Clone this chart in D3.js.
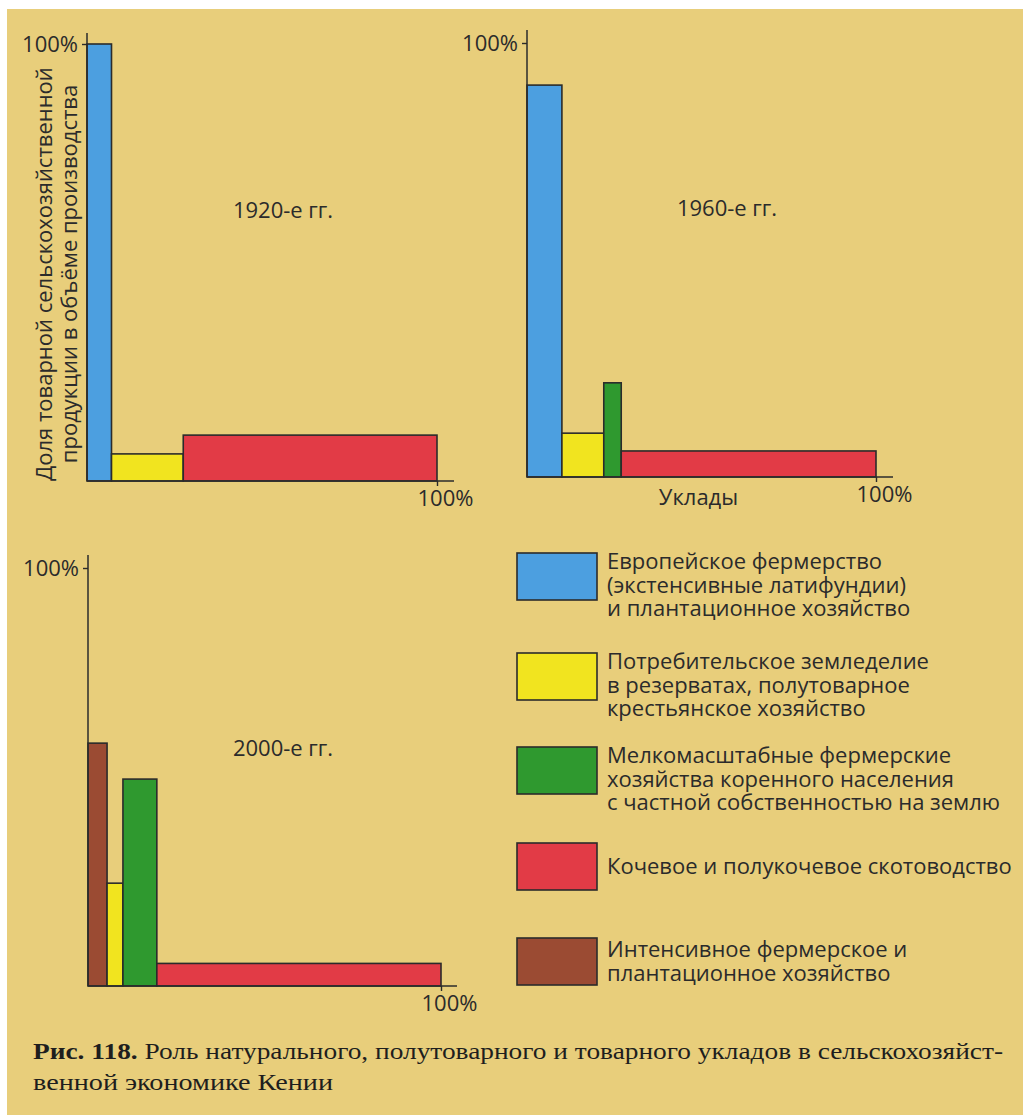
<!DOCTYPE html>
<html>
<head>
<meta charset="utf-8">
<script src="https://cdn.jsdelivr.net/npm/d3@7"></script>
<style>
  html, body { margin: 0; padding: 0; background: #ffffff; }
  svg { display: block; }
</style>
</head>
<body>
<svg id="chart" width="1023" height="1115"></svg>
<script>
// Modes of agricultural production (legend order)
const modeKeys = ["european", "subsistence", "smallholder", "nomadic", "intensive"];
const modeLabels = [
  ["Европейское фермерство", "(экстенсивные латифундии)", "и плантационное хозяйство"],
  ["Потребительское земледелие", "в резерватах, полутоварное", "крестьянское хозяйство"],
  ["Мелкомасштабные фермерские", "хозяйства коренного населения", "с частной собственностью на землю"],
  ["Кочевое и полукочевое скотоводство"],
  ["Интенсивное фермерское и", "плантационное хозяйство"]
];
const modeColors = ["#4c9fe0", "#f1e41f", "#2f992f", "#e23b46", "#9b4b33"];

// Periods
const periods = ["1920-е гг.", "1960-е гг.", "2000-е гг."];

// Per period: modes present, their share of all farming (bar width, %)
// and the share of commercial output within each mode (bar height, %)
const modes1920 = ["european", "subsistence", "nomadic"];
const width1920 = [7, 20.5, 72.5];
const share1920 = [100, 6.2, 10.5];

const modes1960 = ["european", "subsistence", "smallholder", "nomadic"];
const width1960 = [10, 12, 5, 73];
const share1960 = [90.3, 10.1, 21.7, 6];

const modes2000 = ["intensive", "subsistence", "smallholder", "nomadic"];
const width2000 = [5.4, 4.5, 9.6, 80.5];
const share2000 = [58.1, 24.6, 49.5, 5.4];

const tickValue = [100];
const yTitle = ["Доля товарной сельскохозяйственной", "продукции в объёме производства"];
const xTitle = "Уклады";
const captionBold = "Рис. 118.";
const captionLine1 = " Роль натурального, полутоварного и товарного укладов в сельскохозяйст-";
const captionLine2 = "венной экономике Кении";

// ---- layout ----
const svg = d3.select("#chart");
const bg = "#e8ce7b";
const ink = "#2b2b2b";
const sans = "'Open Sans', 'Noto Sans', sans-serif";
const fs = 22;

svg.append("rect").attr("x", 7).attr("y", 9).attr("width", 1016).attr("height", 1106).attr("fill", bg);

const panels = [
  { name: periods[0], modes: modes1920, widths: width1920, shares: share1920,
    left: 87, right: 437, bottom: 481, top: 44, axisTop: 33, axisRight: 454,
    labelX: 283, labelY: 218, xTitle: false },
  { name: periods[1], modes: modes1960, widths: width1960, shares: share1960,
    left: 527, right: 876, bottom: 477, top: 43, axisTop: 30, axisRight: 893,
    labelX: 727, labelY: 216, xTitle: true },
  { name: periods[2], modes: modes2000, widths: width2000, shares: share2000,
    left: 88, right: 441, bottom: 986, top: 568, axisTop: 555, axisRight: 457,
    labelX: 283, labelY: 756, xTitle: false }
];

const color = d3.scaleOrdinal().domain(modeKeys).range(modeColors);

panels.forEach(p => {
  const x = d3.scaleLinear().domain([0, 100]).range([p.left, p.right]);
  const y = d3.scaleLinear().domain([0, 100]).range([p.bottom, p.top]);
  const g = svg.append("g");

  // variable-width bars: widths stack along x
  const starts = d3.cumsum([0].concat(p.widths.slice(0, -1)));
  const bars = p.modes.map((m, i) => ({ mode: m, x0: starts[i], x1: starts[i] + p.widths[i], v: p.shares[i] }));

  g.selectAll("rect.bar").data(bars).join("rect")
    .attr("class", "bar")
    .attr("x", d => x(d.x0))
    .attr("width", d => x(d.x1) - x(d.x0))
    .attr("y", d => y(d.v))
    .attr("height", d => y(0) - y(d.v))
    .attr("fill", d => color(d.mode))
    .attr("stroke", ink)
    .attr("stroke-width", 1.6);

  // y axis
  const ya = g.append("g").attr("transform", `translate(${p.left},0)`)
    .call(d3.axisLeft(y).tickValues(tickValue).tickSize(5).tickSizeOuter(0).tickPadding(4)
      .tickFormat(d => d + "%"));
  ya.select(".domain").remove();
  ya.selectAll("line").attr("stroke", ink).attr("stroke-width", 1.4);
  ya.selectAll("text").attr("font-family", sans).attr("font-size", fs).attr("fill", ink).attr("dy", "0.34em");
  g.append("line").attr("x1", p.left).attr("x2", p.left).attr("y1", p.bottom).attr("y2", p.axisTop)
    .attr("stroke", ink).attr("stroke-width", 1.5);

  // x axis
  const xa = g.append("g").attr("transform", `translate(0,${p.bottom})`)
    .call(d3.axisBottom(x).tickValues(tickValue).tickSize(5).tickSizeOuter(0).tickPadding(4)
      .tickFormat(d => d + "%"));
  xa.select(".domain").remove();
  xa.selectAll("line").attr("stroke", ink).attr("stroke-width", 1.4);
  xa.selectAll("text").attr("font-family", sans).attr("font-size", fs).attr("fill", ink).attr("dx", 8);
  g.append("line").attr("x1", p.left).attr("x2", p.axisRight).attr("y1", p.bottom).attr("y2", p.bottom)
    .attr("stroke", ink).attr("stroke-width", 1.5);

  // period label
  g.append("text").attr("x", p.labelX).attr("y", p.labelY).attr("text-anchor", "middle")
    .attr("font-family", sans).attr("font-size", fs).attr("fill", ink).text(p.name);

  if (p.xTitle) {
    g.append("text").attr("x", (p.left + p.right) / 2 - 3).attr("y", p.bottom + 28).attr("text-anchor", "middle")
      .attr("font-family", sans).attr("font-size", fs).attr("fill", ink).text(xTitle);
  }
});

// y axis title (first panel)
const yt = svg.append("text").attr("transform", "translate(0,274) rotate(-90)")
  .attr("text-anchor", "middle").attr("font-family", sans).attr("font-size", fs).attr("fill", ink);
yt.selectAll("tspan").data(yTitle).join("tspan")
  .attr("x", 0).attr("y", (d, i) => 52 + i * 25).text(d => d);

// legend
const legendTops = [553, 653, 747, 843, 938];
const swW = 80, swH = 47, lineH = 23.5, capH = 15;
const legend = svg.append("g");
modeKeys.forEach((k, i) => {
  const top = legendTops[i];
  legend.append("rect").attr("x", 517).attr("y", top).attr("width", swW).attr("height", swH)
    .attr("fill", color(k)).attr("stroke", ink).attr("stroke-width", 1.6);
  const lines = modeLabels[i];
  const blockH = (lines.length - 1) * lineH + capH;
  const first = blockH > swH ? top + capH + 1 : top + (swH - blockH) / 2 + capH;
  const t = legend.append("text").attr("font-family", sans).attr("font-size", fs).attr("fill", ink);
  t.selectAll("tspan").data(lines).join("tspan")
    .attr("x", 607).attr("y", (d, j) => first + j * lineH).text(d => d);
});

// caption
const serif = "'Liberation Serif', 'DejaVu Serif', serif";
const cap1 = svg.append("text").attr("x", 33).attr("y", 1059)
  .attr("font-family", serif).attr("font-size", 24).attr("fill", "#1e1e1e")
  .attr("textLength", 970).attr("lengthAdjust", "spacingAndGlyphs");
cap1.append("tspan").attr("font-weight", "bold").text(captionBold);
cap1.append("tspan").text(captionLine1);
svg.append("text").attr("x", 33).attr("y", 1090)
  .attr("font-family", serif).attr("font-size", 24).attr("fill", "#1e1e1e")
  .attr("textLength", 300).attr("lengthAdjust", "spacingAndGlyphs")
  .text(captionLine2);
</script>
</body>
</html>
